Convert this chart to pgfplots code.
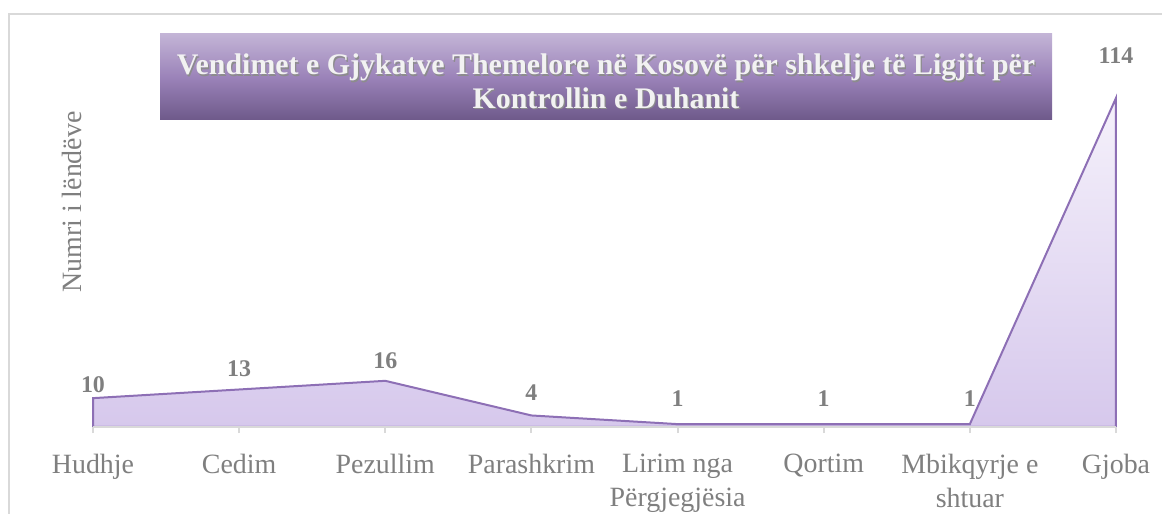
\documentclass[border=0pt]{standalone}
\usepackage{pgfplots}
\usepackage{pgfplotstable}
\usepackage{fontspec}
\setmainfont{Liberation Serif}
\pgfplotsset{compat=1.18}

\definecolor{linepurple}{RGB}{141,111,181}
\definecolor{areatop}{RGB}{245,241,251}
\definecolor{areabot}{RGB}{214,200,236}
\definecolor{labelgray}{RGB}{127,127,127}
\definecolor{axisgray}{RGB}{217,217,217}
\definecolor{titletop}{RGB}{195,180,214}
\definecolor{titlemid}{RGB}{155,131,185}
\definecolor{titlebot}{RGB}{110,89,138}

% x = category index, y = number of cases, off = label offset (bp)
\pgfplotstableread{
x y off
0 10 2.5
1 13 6
2 16 6
3 4 7.5
4 1 8.5
5 1 8.5
6 1 8.5
7 114 17
}\cases

\begin{document}
\begin{tikzpicture}
\path[use as bounding box] (0,0) rectangle (581bp,257bp);
% outer chart frame
\draw[axisgray, line width=0.75bp] (4.5bp,-20bp) -- (4.5bp,250bp) -- (600bp,250bp);

\begin{axis}[
    at={(46.5bp,43.5bp)},
    anchor=south west,
    scale only axis,
    width=511.5bp,
    height=164.5bp,
    xmin=0, xmax=7,
    ymin=0, ymax=114,
    clip=false,
    axis on top,
    axis x line*=bottom,
    axis y line=none,
    x axis line style={axisgray, line width=1bp},
    xtick={0,...,7},
    xticklabels={Hudhje,Cedim,Pezullim,Parashkrim,{Lirim nga\\Përgjegjësia},Qortim,{Mbikqyrje e\\shtuar},Gjoba},
    tick align=outside,
    major tick length=3bp,
    x tick style={axisgray, line width=1bp},
    xticklabel style={
        font=\fontsize{14}{17}\selectfont,
        text=labelgray,
        align=center,
        anchor=north,
        inner sep=0pt,
        yshift=-10.5bp
    },
    /pgf/number format/assume math mode=true,
]

\addplot[draw=linepurple, line width=1bp, top color=areatop, bottom color=areabot]
    table[x=x, y=y] {\cases} \closedcycle;

\addplot[draw=none, mark=none,
    nodes near coords={\pgfmathprintnumber{\pgfplotspointmeta}},
    visualization depends on={\thisrow{off} \as \myoff},
    every node near coord/.append style={
        font=\fontsize{12}{14}\selectfont\bfseries,
        text=labelgray,
        anchor=south,
        inner sep=0pt,
        yshift=\myoff bp
    }]
    table[x=x, y=y] {\cases};

\end{axis}

% y axis title
\node[rotate=90, text=labelgray, font=\fontsize{14}{17}\selectfont] at (36bp,156bp) {Numri i lëndëve};

% chart title box
\node[minimum width=446bp, minimum height=43bp, inner sep=0pt,
      top color=titletop, bottom color=titlebot, middle color=titlemid] at (303bp,218.5bp) {};
\node[align=center, text=black!45, inner sep=0pt,
      font=\fontsize{15}{17}\selectfont\bfseries] at (303.6bp,215.6bp)
      {Vendimet e Gjykatve Themelore në Kosovë për shkelje të Ligjit për\\Kontrollin e Duhanit};
\node[align=center, text=white!95!black, inner sep=0pt,
      font=\fontsize{15}{17}\selectfont\bfseries] at (303bp,216.2bp)
      {Vendimet e Gjykatve Themelore në Kosovë për shkelje të Ligjit për\\Kontrollin e Duhanit};
\end{tikzpicture}
\end{document}
